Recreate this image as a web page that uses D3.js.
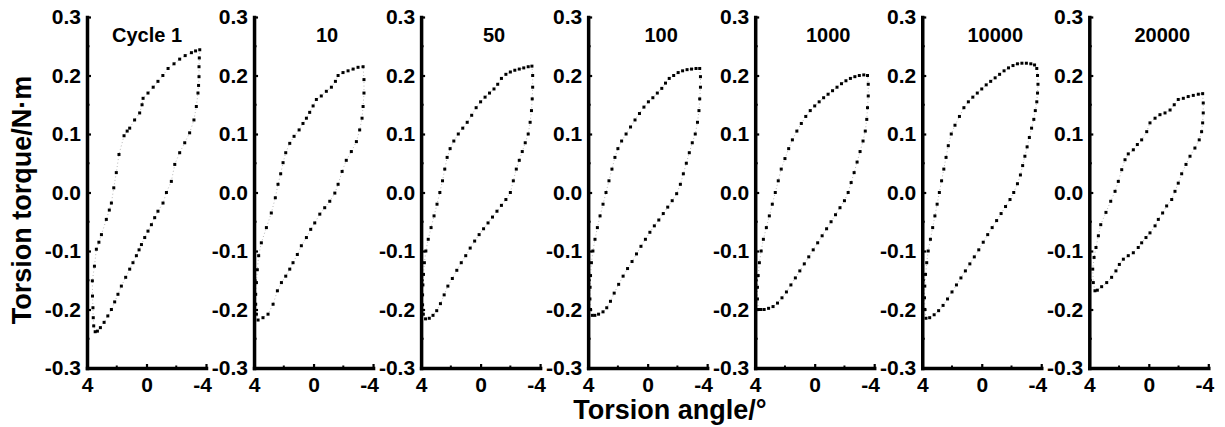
<!DOCTYPE html>
<html>
<head>
<meta charset="utf-8">
<script src="https://cdn.jsdelivr.net/npm/d3@7"></script>
<style>
  body { margin: 0; background: #fff; }
  text { font-family: "Liberation Sans", Arial, sans-serif; font-weight: bold; fill: #000; }
</style>
</head>
<body>
<script>
// cycle titles and loop data, [angle in degrees, torque in N·m]
const titles = ["Cycle 1", "10", "50", "100", "1000", "10000", "20000"];

const cycle1 = [
  [3.45,-0.238],[3.55,-0.228],[3.58,-0.214],[3.6,-0.197],[3.63,-0.177],[3.64,-0.151],[3.5,-0.126],[3.37,-0.097],
  [3.2,-0.085],[3.03,-0.072],[2.7,-0.046],[2.5,-0.03],[2.36,-0.018],[2.2,0.008],[2.03,0.034],[1.85,0.065],
  [1.51,0.097],[1.3,0.105],[1.13,0.11],[0.8,0.124],[0.46,0.136],[0.3,0.15],[0.23,0.161],[-0.1,0.17],
  [-0.45,0.18],[-0.77,0.19],[-1.1,0.2],[-1.45,0.212],[-1.85,0.22],[-2.23,0.228],[-2.6,0.234],[-3.02,0.239],
  [-3.3,0.242],[-3.58,0.244],[-3.55,0.23],[-3.53,0.215],[-3.53,0.198],[-3.5,0.183],[-3.46,0.17],[-3.35,0.147],
  [-3.19,0.124],[-2.9,0.102],[-2.57,0.085],[-2.23,0.068],[-1.9,0.048],[-1.67,0.019],[-1.34,0.0],[-1.11,-0.018],
  [-0.77,-0.032],[-0.55,-0.043],[-0.33,-0.055],[-0.1,-0.066],[0.12,-0.077],[0.34,-0.089],[0.5,-0.098],[0.68,-0.108],
  [0.91,-0.12],[1.13,-0.131],[1.4,-0.145],[1.69,-0.16],[1.92,-0.174],[2.14,-0.187],[2.36,-0.2],[2.6,-0.211],
  [2.85,-0.222],[3.1,-0.231],[3.3,-0.237]
];

const cycle10 = [
  [3.73,-0.218],[3.84,-0.208],[3.89,-0.191],[3.89,-0.174],[3.84,-0.154],[3.78,-0.132],[3.69,-0.108],[3.51,-0.086],
  [3.17,-0.06],[2.84,-0.035],[2.57,-0.009],[2.39,0.014],[2.21,0.032],[2.05,0.051],[1.87,0.068],[1.6,0.084],
  [1.31,0.096],[0.97,0.107],[0.71,0.118],[0.48,0.127],[0.26,0.137],[0.03,0.148],[-0.19,0.159],[-0.52,0.165],
  [-0.86,0.173],[-1.2,0.18],[-1.47,0.19],[-1.65,0.2],[-1.98,0.205],[-2.32,0.208],[-2.66,0.211],[-2.99,0.214],
  [-3.33,0.215],[-3.39,0.193],[-3.39,0.17],[-3.33,0.147],[-3.26,0.127],[-3.1,0.107],[-2.88,0.087],[-2.54,0.07],
  [-2.2,0.055],[-1.92,0.036],[-1.65,0.014],[-1.43,-0.001],[-1.09,-0.015],[-0.75,-0.026],[-0.42,-0.037],[-0.08,-0.052],
  [0.19,-0.063],[0.48,-0.077],[0.82,-0.091],[1.09,-0.106],[1.38,-0.12],[1.6,-0.131],[1.87,-0.143],[2.16,-0.154],
  [2.43,-0.168],[2.72,-0.191],[3.06,-0.208],[3.4,-0.214]
];

const cycle50 = [
  [3.7,-0.216],[3.85,-0.208],[3.9,-0.192],[3.9,-0.175],[3.88,-0.158],[3.84,-0.14],[3.78,-0.12],[3.68,-0.1],
  [3.52,-0.08],[3.33,-0.06],[3.13,-0.04],[2.93,-0.02],[2.74,0.0],[2.56,0.02],[2.41,0.04],[2.25,0.06],
  [2.05,0.075],[1.8,0.088],[1.5,0.1],[1.2,0.11],[0.9,0.12],[0.6,0.132],[0.3,0.145],[0.0,0.155],
  [-0.3,0.163],[-0.6,0.17],[-0.9,0.177],[-1.15,0.185],[-1.4,0.195],[-1.7,0.202],[-2.0,0.206],[-2.3,0.209],
  [-2.6,0.211],[-2.9,0.213],[-3.2,0.215],[-3.45,0.216],[-3.5,0.2],[-3.5,0.18],[-3.47,0.16],[-3.42,0.14],
  [-3.33,0.12],[-3.2,0.1],[-3.0,0.085],[-2.8,0.07],[-2.6,0.055],[-2.4,0.04],[-2.2,0.02],[-2.0,0.0],
  [-1.7,-0.012],[-1.4,-0.022],[-1.1,-0.032],[-0.8,-0.042],[-0.5,-0.052],[-0.2,-0.062],[0.1,-0.072],[0.4,-0.083],
  [0.7,-0.095],[1.0,-0.108],[1.3,-0.12],[1.6,-0.133],[1.9,-0.147],[2.2,-0.16],[2.45,-0.175],[2.7,-0.19],
  [2.95,-0.202],[3.2,-0.21],[3.45,-0.215]
];

const cycle100 = [
  [3.72,-0.21],[3.84,-0.2],[3.88,-0.182],[3.87,-0.162],[3.84,-0.142],[3.78,-0.12],[3.68,-0.1],[3.54,-0.08],
  [3.38,-0.06],[3.2,-0.04],[3.0,-0.02],[2.8,0.0],[2.6,0.02],[2.4,0.04],[2.2,0.06],[2.0,0.075],
  [1.75,0.088],[1.45,0.1],[1.15,0.112],[0.85,0.124],[0.55,0.135],[0.25,0.146],[-0.05,0.155],[-0.35,0.162],
  [-0.65,0.17],[-0.95,0.178],[-1.2,0.187],[-1.45,0.195],[-1.75,0.2],[-2.05,0.205],[-2.35,0.208],[-2.65,0.21],
  [-2.95,0.211],[-3.25,0.212],[-3.5,0.212],[-3.55,0.198],[-3.55,0.18],[-3.5,0.16],[-3.45,0.14],[-3.35,0.12],
  [-3.2,0.1],[-3.0,0.085],[-2.8,0.068],[-2.6,0.05],[-2.4,0.032],[-2.2,0.014],[-1.95,-0.002],[-1.65,-0.014],
  [-1.35,-0.025],[-1.05,-0.036],[-0.75,-0.047],[-0.45,-0.057],[-0.15,-0.068],[0.15,-0.08],[0.45,-0.092],[0.75,-0.105],
  [1.05,-0.118],[1.35,-0.13],[1.65,-0.143],[1.95,-0.157],[2.25,-0.172],[2.5,-0.186],[2.75,-0.197],[3.0,-0.204],
  [3.3,-0.208],[3.55,-0.21]
];

const cycle1000 = [
  [3.78,-0.2],[3.85,-0.182],[3.85,-0.162],[3.8,-0.142],[3.72,-0.12],[3.6,-0.1],[3.45,-0.08],[3.25,-0.06],
  [3.05,-0.04],[2.85,-0.02],[2.65,0.0],[2.45,0.02],[2.25,0.04],[2.0,0.058],[1.75,0.075],[1.5,0.09],
  [1.2,0.105],[0.9,0.118],[0.6,0.13],[0.3,0.14],[0.0,0.148],[-0.3,0.155],[-0.6,0.162],[-0.9,0.168],
  [-1.2,0.174],[-1.5,0.18],[-1.8,0.186],[-2.1,0.191],[-2.4,0.195],[-2.7,0.198],[-3.0,0.2],[-3.3,0.201],
  [-3.55,0.2],[-3.6,0.185],[-3.6,0.165],[-3.55,0.145],[-3.5,0.125],[-3.4,0.105],[-3.25,0.088],[-3.05,0.07],
  [-2.85,0.052],[-2.65,0.034],[-2.45,0.017],[-2.25,0.0],[-2.0,-0.014],[-1.7,-0.026],[-1.4,-0.038],[-1.1,-0.05],
  [-0.8,-0.062],[-0.5,-0.074],[-0.2,-0.086],[0.1,-0.098],[0.4,-0.11],[0.7,-0.122],[1.0,-0.134],[1.3,-0.146],
  [1.6,-0.158],[1.9,-0.17],[2.2,-0.18],[2.5,-0.189],[2.8,-0.195],[3.1,-0.198],[3.4,-0.2],[3.62,-0.2]
];

const cycle10000 = [
  [3.75,-0.215],[3.82,-0.2],[3.85,-0.18],[3.83,-0.16],[3.78,-0.14],[3.7,-0.12],[3.6,-0.1],[3.45,-0.08],
  [3.3,-0.06],[3.15,-0.04],[3.0,-0.02],[2.85,0.0],[2.7,0.02],[2.55,0.04],[2.4,0.06],[2.25,0.08],
  [2.05,0.1],[1.8,0.115],[1.5,0.13],[1.2,0.145],[0.9,0.155],[0.6,0.163],[0.3,0.17],[0.0,0.177],
  [-0.3,0.184],[-0.6,0.19],[-0.9,0.196],[-1.2,0.202],[-1.5,0.208],[-1.8,0.213],[-2.1,0.217],[-2.4,0.22],
  [-2.7,0.221],[-3.0,0.221],[-3.3,0.22],[-3.55,0.218],[-3.7,0.212],[-3.75,0.2],[-3.78,0.185],[-3.75,0.17],
  [-3.7,0.155],[-3.6,0.14],[-3.5,0.125],[-3.35,0.11],[-3.2,0.094],[-3.05,0.078],[-2.9,0.062],[-2.75,0.046],
  [-2.6,0.03],[-2.4,0.015],[-2.15,0.0],[-1.9,-0.012],[-1.6,-0.024],[-1.3,-0.036],[-1.0,-0.048],[-0.7,-0.06],
  [-0.4,-0.072],[-0.1,-0.085],[0.2,-0.098],[0.5,-0.11],[0.8,-0.122],[1.1,-0.134],[1.4,-0.146],[1.7,-0.158],
  [2.0,-0.17],[2.3,-0.182],[2.6,-0.193],[2.9,-0.202],[3.2,-0.209],[3.5,-0.214]
];

const cycle20000 = [
  [3.62,-0.168],[3.73,-0.154],[3.77,-0.131],[3.68,-0.111],[3.55,-0.094],[3.39,-0.074],[3.23,-0.055],[2.88,-0.034],
  [2.56,-0.015],[2.27,0.002],[2.05,0.019],[1.82,0.039],[1.6,0.056],[1.38,0.066],[1.04,0.073],[0.77,0.082],
  [0.48,0.09],[0.14,0.104],[-0.08,0.119],[-0.42,0.127],[-0.75,0.133],[-1.09,0.136],[-1.43,0.141],[-1.71,0.15],
  [-1.98,0.159],[-2.32,0.161],[-2.65,0.164],[-2.99,0.166],[-3.33,0.168],[-3.62,0.169],[-3.66,0.153],[-3.66,0.136],
  [-3.62,0.119],[-3.55,0.104],[-3.39,0.09],[-3.1,0.076],[-2.77,0.062],[-2.5,0.048],[-2.21,0.032],[-1.98,0.016],
  [-1.76,0.002],[-1.54,-0.012],[-1.2,-0.023],[-0.93,-0.035],[-0.64,-0.046],[-0.42,-0.057],[-0.08,-0.069],[0.19,-0.077],
  [0.48,-0.086],[0.71,-0.094],[1.04,-0.103],[1.38,-0.108],[1.71,-0.114],[1.98,-0.123],[2.21,-0.134],[2.5,-0.145],
  [2.83,-0.154],[3.17,-0.161],[3.46,-0.167]
];

const loops = [cycle1, cycle10, cycle50, cycle100, cycle1000, cycle10000, cycle20000];

const yTicks = [0.3, 0.2, 0.1, 0.0, -0.1, -0.2, -0.3];
const yMinor = [0.25, 0.15, 0.05, -0.05, -0.15, -0.25];
const xTicks = [4, 0, -4];
const xMinor = [2, -2];

const w = 1225,
      h = 427,
      leftPx = 87,
      step = 167.05,
      panelW = 119,
      topPx = 17,
      bottomPx = 368;

const svg = d3.select("body")
              .append("svg")
              .attr("width", w)
              .attr("height", h);

const yScale = d3.scaleLinear().domain([-0.3, 0.3]).range([bottomPx, topPx]);

loops.forEach(function(loop, i) {
    const x0 = leftPx + i * step;
    const xScale = d3.scaleLinear().domain([4, -4]).range([x0, x0 + panelW]);
    const g = svg.append("g").attr("class", "panel");

    // faint line joining the samples
    g.append("path")
     .datum(loop)
     .attr("d", d3.line().x(d => xScale(d[0])).y(d => yScale(d[1])))
     .attr("fill", "none")
     .attr("stroke", "#999")
     .attr("stroke-width", 0.7)
     .attr("stroke-dasharray", "1,2.5");

    g.selectAll("rect.dot")
     .data(loop)
     .enter()
     .append("rect")
     .attr("class", "dot")
     .attr("x", d => xScale(d[0]) - 1.5)
     .attr("y", d => yScale(d[1]) - 1.5)
     .attr("width", 3)
     .attr("height", 3)
     .attr("fill", "#000");

    const yAxis = g.append("g")
                   .attr("transform", "translate(" + x0 + ",0)")
                   .call(d3.axisLeft(yScale).tickValues(yTicks).tickSize(-4).tickSizeOuter(0)
                           .tickPadding(6).tickFormat(d => d.toFixed(1)));

    yMinor.forEach(function(v) {
        yAxis.append("line")
             .attr("x1", 0).attr("x2", 2.5)
             .attr("y1", yScale(v)).attr("y2", yScale(v))
             .attr("stroke", "#000").attr("stroke-width", 2);
    });

    const xAxis = g.append("g")
                   .attr("transform", "translate(0," + bottomPx + ")")
                   .call(d3.axisBottom(xScale).tickValues(xTicks).tickSize(-4).tickSizeOuter(0)
                           .tickPadding(9).tickFormat(d => String(d)));

    // keep the "-4" clear of the next panel's "-0.3"
    xAxis.selectAll(".tick text").filter(d => d === -4).attr("dx", -4);

    xMinor.forEach(function(v) {
        xAxis.append("line")
             .attr("x1", xScale(v)).attr("x2", xScale(v))
             .attr("y1", 0).attr("y2", -2.5)
             .attr("stroke", "#000").attr("stroke-width", 2);
    });

    [yAxis, xAxis].forEach(function(a) {
        a.attr("font-family", null).attr("font-size", null);
        a.select(".domain").attr("stroke-width", 3.5).attr("stroke-linecap", "square");
        a.selectAll(".tick line").attr("stroke-width", 2.2);
        a.selectAll(".tick text").attr("font-size", 21);
    });

    g.append("text")
     .text(titles[i])
     .attr("x", x0 + (i === 0 ? 60 : 73))
     .attr("y", 42)
     .attr("text-anchor", "middle")
     .attr("font-size", 20);
});

svg.append("text")
   .text("Torsion angle/°")
   .attr("x", 670)
   .attr("y", 419)
   .attr("text-anchor", "middle")
   .attr("font-size", 27);

svg.append("text")
   .text("Torsion torque/N·m")
   .attr("text-anchor", "middle")
   .attr("font-size", 27)
   .attr("transform", "translate(31,200)rotate(-90)");
</script>
</body>
</html>
